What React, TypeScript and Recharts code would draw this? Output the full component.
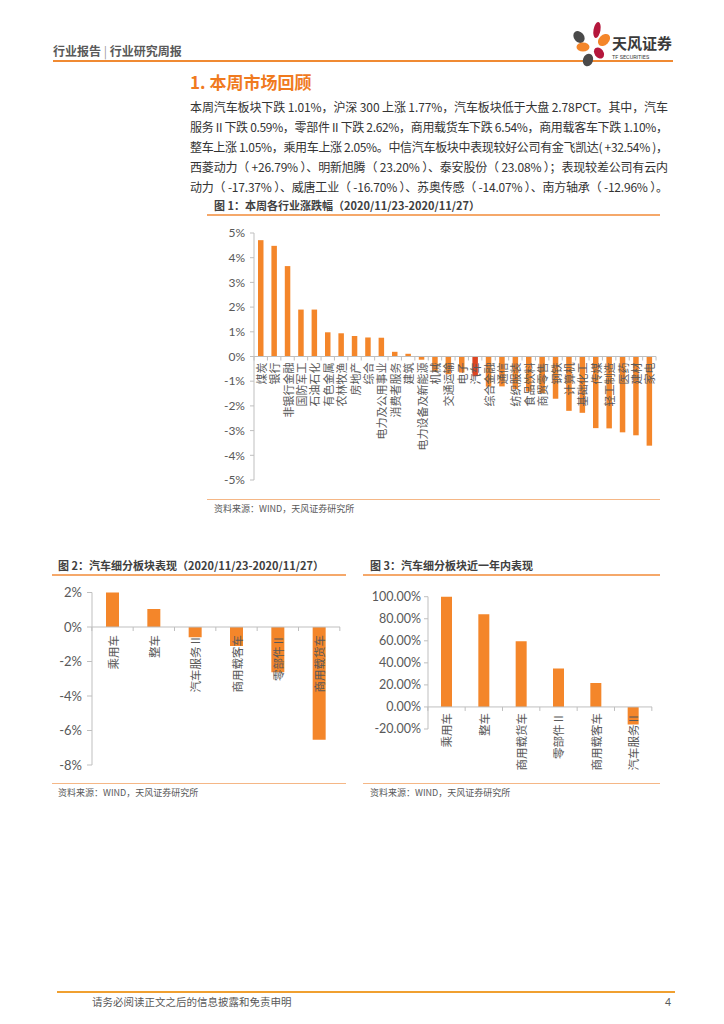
import { BarChart, Bar, XAxis, YAxis, ReferenceLine, Cell, LabelList } from "recharts";

// 图1：本周各行业涨跌幅
const industryNames = [
  "煤炭", "银行", "非银行金融", "国防军工", "石油石化", "有色金属", "农林牧渔", "房地产", "综合",
  "电力及公用事业", "消费者服务", "建筑", "电力设备及新能源", "机械", "交通运输", "电子", "汽车",
  "综合金融", "通信", "纺织服装", "食品饮料", "商贸零售", "钢铁", "计算机", "基础化工", "传媒",
  "轻工制造", "医药", "建材", "家电",
];
const industryChange = [
  4.71, 4.48, 3.66, 1.9, 1.9, 0.98, 0.94, 0.83, 0.77, 0.76, 0.19, 0.11, -0.13, -0.61, -0.72, -0.65,
  -0.8, -1.22, -1.21, -1.32, -1.42, -1.48, -1.71, -2.2, -2.28, -2.9, -2.91, -3.07, -3.19, -3.61,
];
const industryTicks = [5, 4, 3, 2, 1, 0, -1, -2, -3, -4, -5];
const highlightIndustry = "汽车";

// 图2：汽车细分板块表现（周）
const weekSegments = ["乘用车", "整车", "汽车服务Ⅱ", "商用载客车", "零部件Ⅱ", "商用载货车"];
const weekChange = [2.05, 1.05, -0.59, -1.1, -2.62, -6.54];
const weekTicks = [2, 0, -2, -4, -6, -8];

// 图3：汽车细分板块近一年内表现
const yearSegments = ["乘用车", "整车", "商用载货车", "零部件Ⅱ", "商用载客车", "汽车服务Ⅱ"];
const yearChange = [100.9, 84.0, 59.7, 34.9, 21.8, -16.0];
const yearTicks = [100, 80, 60, 40, 20, 0, -20];

const paragraph = [
  "本周汽车板块下跌 1.01%，沪深 300 上涨 1.77%，汽车板块低于大盘 2.78PCT。其中，汽车",
  "服务 II 下跌 0.59%，零部件 II 下跌 2.62%，商用载货车下跌 6.54%，商用载客车下跌 1.10%，",
  "整车上涨 1.05%，乘用车上涨 2.05%。中信汽车板块中表现较好公司有金飞凯达( +32.54% )，",
  "西菱动力（ +26.79% ）、明新旭腾（ 23.20% ）、泰安股份（ 23.08% ）；表现较差公司有云内",
  "动力（ -17.37% ）、威唐工业（ -16.70% ）、苏奥传感（ -14.07% ）、南方轴承（ -12.96% ）。",
];

const ORANGE = "#F4862A";
const RED = "#DD4420";
const AXIS = "#BFBFBF";
const GREY = "#595959";
const CJK = '"Noto Sans CJK SC", "Noto Sans", sans-serif';
const NUM = 'Lato, "Noto Sans", sans-serif';

type ChartProps = {
  names: string[];
  values: number[];
  ticks: number[];
  fmt: (v: number) => string;
  left: number;
  top: number;
  width: number;
  height: number;
  margin: { top: number; right: number; bottom: number; left: number };
  yWidth: number;
  barSize: number;
  tickSize: number;
  tickMargin: number;
  tickFont: number;
  labelFont: number;
  labelGap: number;
  highlight?: string;
};

function SegmentChart(p: ChartProps) {
  const data = p.names.map((name, i) => ({ name, value: p.values[i] }));
  const plotW = p.width - p.margin.left - p.margin.right - p.yWidth;
  const catW = plotW / p.names.length;
  const min = p.ticks[p.ticks.length - 1];
  const max = p.ticks[0];

  // category labels + x tick marks sit on the zero line
  const renderLabel = (props: any) => {
    const vb = props.viewBox || props;
    const x = Number(vb.x);
    const y = Number(vb.y);
    const w = Number(vb.width);
    const h = Number(vb.height);
    const v = Number(props.value);
    const i = Number(props.index);
    const zero = v >= 0 ? Math.max(y, y + h) : Math.min(y, y + h);
    const cx = x + w / 2;
    const ty = zero + p.labelGap;
    return (
      <g key={`lbl-${i}`}>
        <line x1={cx - catW / 2} x2={cx - catW / 2} y1={zero} y2={zero + 4} stroke={AXIS} />
        {i === p.names.length - 1 && (
          <line x1={cx + catW / 2} x2={cx + catW / 2} y1={zero} y2={zero + 4} stroke={AXIS} />
        )}
        <text
          x={cx}
          y={ty}
          transform={`rotate(-90 ${cx} ${ty})`}
          textAnchor="end"
          dominantBaseline="central"
          fontSize={p.labelFont}
          fontFamily={CJK}
          fill={GREY}
        >
          {p.names[i]}
        </text>
      </g>
    );
  };

  return (
    <div style={{ position: "absolute", left: p.left, top: p.top }}>
      <BarChart width={p.width} height={p.height} data={data} margin={p.margin}>
        <XAxis dataKey="name" hide />
        <YAxis
          type="number"
          domain={[min, max]}
          ticks={p.ticks}
          interval={0}
          allowDataOverflow
          width={p.yWidth}
          axisLine={{ stroke: AXIS }}
          tickLine={{ stroke: AXIS }}
          tickSize={p.tickSize}
          tickMargin={p.tickMargin}
          tick={{ fontSize: p.tickFont, fill: GREY, fontFamily: NUM }}
          tickFormatter={p.fmt}
        />
        <ReferenceLine y={0} stroke={AXIS} />
        <Bar dataKey="value" barSize={p.barSize} fill={ORANGE} isAnimationActive={false}>
          {data.map((d, i) => (
            <Cell key={`c-${i}`} fill={d.name === p.highlight ? RED : ORANGE} />
          ))}
          <LabelList dataKey="value" content={renderLabel} />
        </Bar>
      </BarChart>
    </div>
  );
}

const abs = (left: number, top: number, extra: React.CSSProperties = {}): React.CSSProperties => ({
  position: "absolute",
  left,
  top,
  whiteSpace: "nowrap",
  ...extra,
});

function Logo() {
  return (
    <svg width={110} height={50} style={{ position: "absolute", left: 566, top: 18 }}>
      <ellipse cx={31} cy={12} rx={3.5} ry={8} fill="#B5173C" transform="rotate(10 31 12)" />
      <ellipse cx={13} cy={19} rx={5} ry={6.5} fill="#4A4A4A" transform="rotate(-40 13 19)" />
      <ellipse cx={38} cy={22} rx={5} ry={7} fill={ORANGE} transform="rotate(45 38 22)" />
      <ellipse cx={17} cy={29} rx={6.5} ry={4.5} fill={ORANGE} />
      <ellipse cx={33} cy={35} rx={4.5} ry={6} fill="#B5173C" transform="rotate(-35 33 35)" />
      <ellipse cx={22} cy={42} rx={5} ry={6.5} fill="#4A4A4A" transform="rotate(20 22 42)" />
      <text x={46} y={31} fontSize={15} fontWeight={700} fill="#3A3A3A" fontFamily={CJK}>
        天风证券
      </text>
      <text x={46} y={41} fontSize={5.5} fill="#3A3A3A" fontFamily="Roboto, sans-serif">
        TF SECURITIES
      </text>
    </svg>
  );
}

export default function App() {
  return (
    <div
      style={{
        position: "absolute",
        left: 0,
        top: 0,
        width: 724,
        height: 1024,
        background: "#fff",
        fontFamily: CJK,
        color: "#333",
        overflow: "hidden",
      }}
    >
      {/* header */}
      <div style={abs(53, 42, { fontSize: 12, fontWeight: 700, color: GREY, lineHeight: "18px" })}>
        行业报告 <span style={{ fontWeight: 400, color: "#999" }}>|</span> 行业研究周报
      </div>
      <div style={abs(53, 60, { width: 620, height: 2, background: "#F08A32" })} />
      <Logo />

      {/* section title */}
      <div style={abs(190, 71, { fontSize: 17, fontWeight: 700, color: "#F07A1E", lineHeight: "22px" })}>
        1. 本周市场回顾
      </div>
      <svg width={482} height={110} style={{ position: "absolute", left: 190, top: 95 }}>
        {paragraph.map((line, i) => (
          <text
            key={i}
            x={0}
            y={16.5 + i * 20.2}
            fontSize={12}
            fill="#333"
            fontFamily={CJK}
            textLength={478}
            lengthAdjust="spacing"
          >
            {line}
          </text>
        ))}
      </svg>

      {/* figure 1 */}
      <div style={abs(214, 198, { fontSize: 11, fontWeight: 700, color: "#404040", lineHeight: "14px" })}>
        图 1：本周各行业涨跌幅（2020/11/23-2020/11/27）
      </div>
      <div style={abs(207, 214, { width: 453, height: 1.5, background: "#F5A86A" })} />
      <SegmentChart
        names={industryNames}
        values={industryChange}
        ticks={industryTicks}
        fmt={(v) => `${v}%`}
        left={200}
        top={220}
        width={470}
        height={275}
        margin={{ top: 13, right: 14, bottom: 15, left: 0 }}
        yWidth={54}
        barSize={5.5}
        tickSize={4}
        tickMargin={5}
        tickFont={12}
        labelFont={11}
        labelGap={6}
        highlight={highlightIndustry}
      />
      <div style={abs(207, 499, { width: 453, height: 1, background: "#F5B786" })} />
      <div style={abs(214, 503, { fontSize: 9, color: GREY, lineHeight: "12px" })}>
        资料来源：WIND，天风证券研究所
      </div>

      {/* figure 2 */}
      <div style={abs(58, 558, { fontSize: 11, fontWeight: 700, color: "#404040", lineHeight: "14px" })}>
        图 2：汽车细分板块表现（2020/11/23-2020/11/27）
      </div>
      <div style={abs(52, 574, { width: 294, height: 1.5, background: "#F5A86A" })} />
      <SegmentChart
        names={weekSegments}
        values={weekChange}
        ticks={weekTicks}
        fmt={(v) => `${v}%`}
        left={40}
        top={580}
        width={310}
        height={198}
        margin={{ top: 12.5, right: 10, bottom: 13, left: 0 }}
        yWidth={52}
        barSize={13}
        tickSize={5}
        tickMargin={5}
        tickFont={13}
        labelFont={11.5}
        labelGap={8}
      />
      <div style={abs(52, 783, { width: 294, height: 1, background: "#F5B786" })} />
      <div style={abs(58, 787, { fontSize: 9, color: GREY, lineHeight: "12px" })}>
        资料来源：WIND，天风证券研究所
      </div>

      {/* figure 3 */}
      <div style={abs(370, 558, { fontSize: 11, fontWeight: 700, color: "#404040", lineHeight: "14px" })}>
        图 3：汽车细分板块近一年内表现
      </div>
      <div style={abs(363, 574, { width: 297, height: 1.5, background: "#F5A86A" })} />
      <SegmentChart
        names={yearSegments}
        values={yearChange}
        ticks={yearTicks}
        fmt={(v) => `${v.toFixed(2)}%`}
        left={355}
        top={585}
        width={310}
        height={195}
        margin={{ top: 11.7, right: 13, bottom: 51, left: 0 }}
        yWidth={73}
        barSize={11}
        tickSize={4}
        tickMargin={3}
        tickFont={12.5}
        labelFont={11.5}
        labelGap={6}
      />
      <div style={abs(363, 783, { width: 297, height: 1, background: "#F5B786" })} />
      <div style={abs(370, 787, { fontSize: 9, color: GREY, lineHeight: "12px" })}>
        资料来源：WIND，天风证券研究所
      </div>

      {/* footer */}
      <div style={abs(57, 991, { width: 618, height: 2, background: "#F0A030" })} />
      <div style={abs(92, 995, { fontSize: 10.5, color: GREY, lineHeight: "14px" })}>
        请务必阅读正文之后的信息披露和免责申明
      </div>
      <div style={abs(665, 995, { fontSize: 10.5, color: GREY, lineHeight: "14px", fontFamily: NUM })}>
        4
      </div>
    </div>
  );
}
